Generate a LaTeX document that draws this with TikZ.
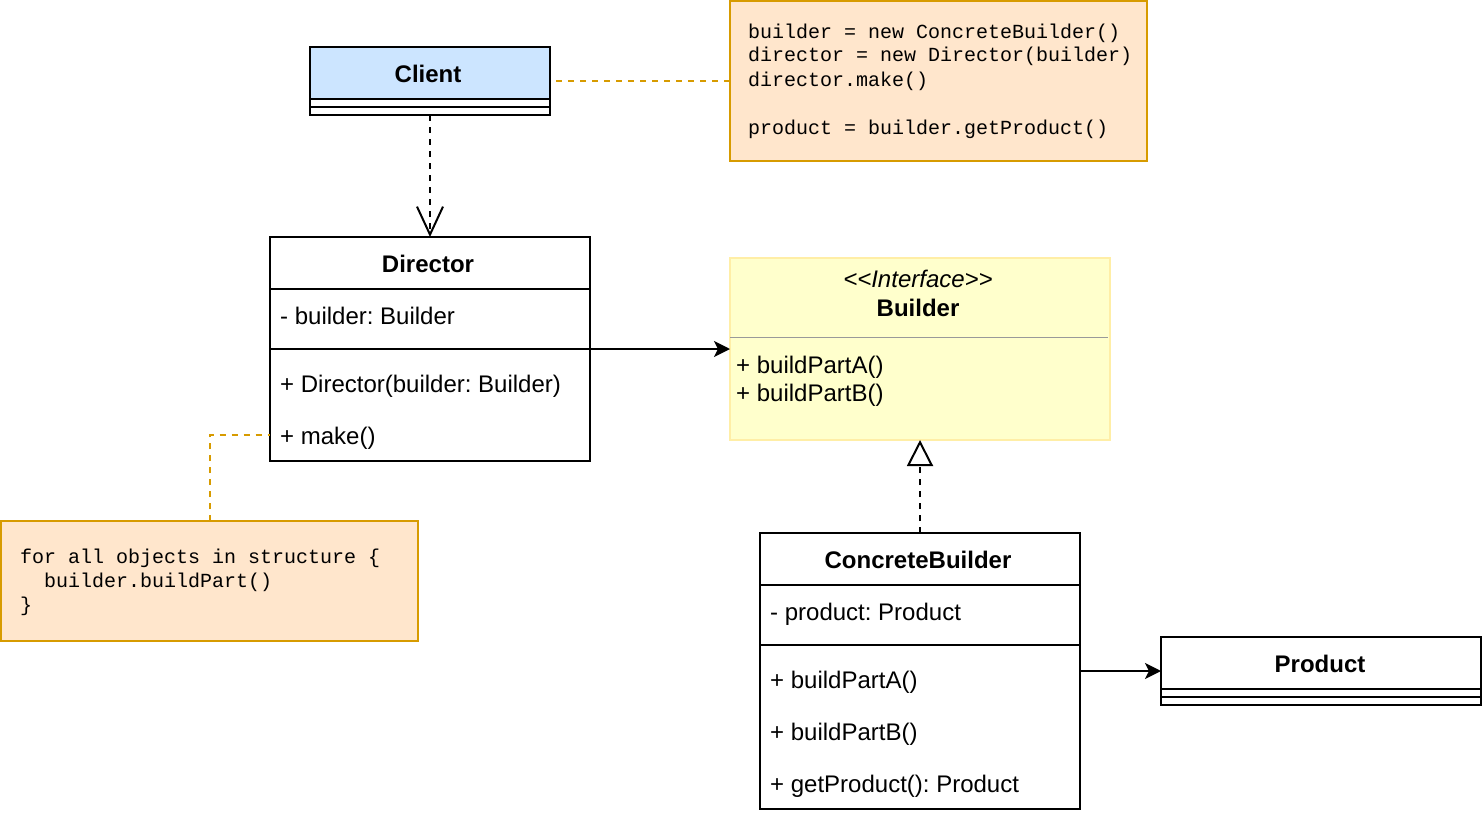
\documentclass[tikz,border=0pt]{standalone}
\usepackage{fontspec}
\setmainfont{Liberation Sans}
\setmonofont{Liberation Mono}
\usetikzlibrary{arrows.meta}
\frenchspacing
\definecolor{clientfill}{HTML}{CCE5FF}
\definecolor{notefill}{HTML}{FFE6CC}
\definecolor{notedraw}{HTML}{D79B00}
\definecolor{iffill}{HTML}{FFFFCC}
\definecolor{ifdraw}{HTML}{FFEEA6}
\definecolor{sepgray}{HTML}{999999}
\tikzset{
  classbox/.style={draw=black, line width=2pt, fill=white, inner sep=0pt, outer sep=0pt},
  notebox/.style={draw=notedraw, line width=2pt, fill=notefill, inner sep=0pt, outer sep=0pt},
  ifbox/.style={draw=ifdraw, line width=2pt, fill=iffill, inner sep=0pt, outer sep=0pt},
  sanstext/.style={inner sep=0pt, font=\fontsize{24}{28}\selectfont},
  titletext/.style={sanstext, anchor=base, font=\fontsize{24}{28}\selectfont\bfseries},
  membertext/.style={sanstext, anchor=base west},
  codetext/.style={inner sep=0pt, anchor=base west, font=\fontsize{20}{24}\selectfont\ttfamily},
  sepline/.style={line width=2pt, black},
  dep/.style={line width=2pt, dash pattern=on 6pt off 6pt, -{Straight Barb[length=28pt,width=26pt,line width=2pt]}},
  assoc/.style={line width=2pt, -{Stealth[length=16pt,width=16pt,inset=4pt]}},
  realize/.style={line width=2pt, dash pattern=on 6pt off 6pt, -{Triangle[open,length=26pt,width=26pt,line width=2pt]}},
  noteline/.style={line width=2pt, draw=notedraw, dash pattern=on 6pt off 6pt},
}
\begin{document}
\begin{tikzpicture}[x=1pt,y=-1pt]
\fill[white] (0,0) rectangle (1482,816);
\useasboundingbox (0,0) rectangle (1482,816);

% Client
\node[classbox, minimum width=240pt, minimum height=68pt] (client) at (430,81) {};
\fill[clientfill] (311,48) rectangle (549,98);
\draw[sepline] (310,99) -- (550,99);
\draw[sepline] (310,107) -- (550,107);
\draw[line width=2pt] (310,47) rectangle (550,115);
\node[titletext] (clientT) at (428,82) {Client};

% Note 1
\node[notebox, minimum width=417pt, minimum height=160pt] (note1) at (938.5,81) {};
\node[codetext] (n1a) at (748,38) {builder = new ConcreteBuilder()};
\node[codetext] (n1b) at (748,62) {director = new Director(builder)};
\node[codetext] (n1c) at (748,86) {director.make()};
\node[codetext] (n1d) at (748,134) {product = builder.getProduct()};

% Director
\node[classbox, minimum width=320pt, minimum height=224pt] (director) at (430,349) {};
\draw[sepline] (270,289) -- (590,289);
\draw[sepline] (270,349) -- (590,349);
\node[titletext] (dirT) at (428,272) {Director};
\node[membertext] (dirA) at (280,324) {- builder: Builder};
\node[membertext] (dirM1) at (280,392) {+ Director(builder: Builder)};
\node[membertext] (dirM2) at (280,444) {+ make()};
\coordinate (makept) at (270,435);

% Builder interface
\node[ifbox, minimum width=380pt, minimum height=182pt] (builder) at (920,349) {};
\draw[sepgray, line width=1.6pt] (730,337.5) -- (1108,337.5);
\node[sanstext, anchor=base] (ifS) at (918,287) {\itshape <\kern0pt<Interface>\kern0pt>};
\node[titletext] (ifT) at (918,316) {Builder};
\node[membertext] (ifM1) at (736,373) {+ buildPartA()};
\node[membertext] (ifM2) at (736,401) {+ buildPartB()};

% Note 2
\node[notebox, minimum width=417pt, minimum height=120pt] (note2) at (209.5,581) {};
\node[codetext] (n2a) at (20,563) {for all objects in structure \{};
\node[codetext] (n2b) at (20,587) {\phantom{xx}builder.buildPart()};
\node[codetext] (n2c) at (20,611) {\}};

% ConcreteBuilder
\node[classbox, minimum width=320pt, minimum height=276pt] (cb) at (920,671) {};
\draw[sepline] (760,585) -- (1080,585);
\draw[sepline] (760,645) -- (1080,645);
\node[titletext] (cbT) at (918,568) {ConcreteBuilder};
\node[membertext] (cbA) at (770,620) {- product: Product};
\node[membertext] (cbM1) at (770,688) {+ buildPartA()};
\node[membertext] (cbM2) at (770,740) {+ buildPartB()};
\node[membertext] (cbM3) at (770,792) {+ getProduct(): Product};

% Product
\node[classbox, minimum width=320pt, minimum height=68pt] (product) at (1321,671) {};
\draw[sepline] (1161,689) -- (1481,689);
\draw[sepline] (1161,697) -- (1481,697);
\node[titletext] (prodT) at (1320,672) {Product};

% Connectors
\draw[dep] (client.south) -- (director.north);
\draw[noteline, shorten <=6pt] (client.east) -- (note1.west);
\draw[assoc] (director.east) -- (builder.west);
\draw[realize] (cb.north) -- (builder.south);
\draw[assoc] (cb.east) -- (product.west);
\draw[noteline] (note2.north) |- (makept);
\end{tikzpicture}
\end{document}
